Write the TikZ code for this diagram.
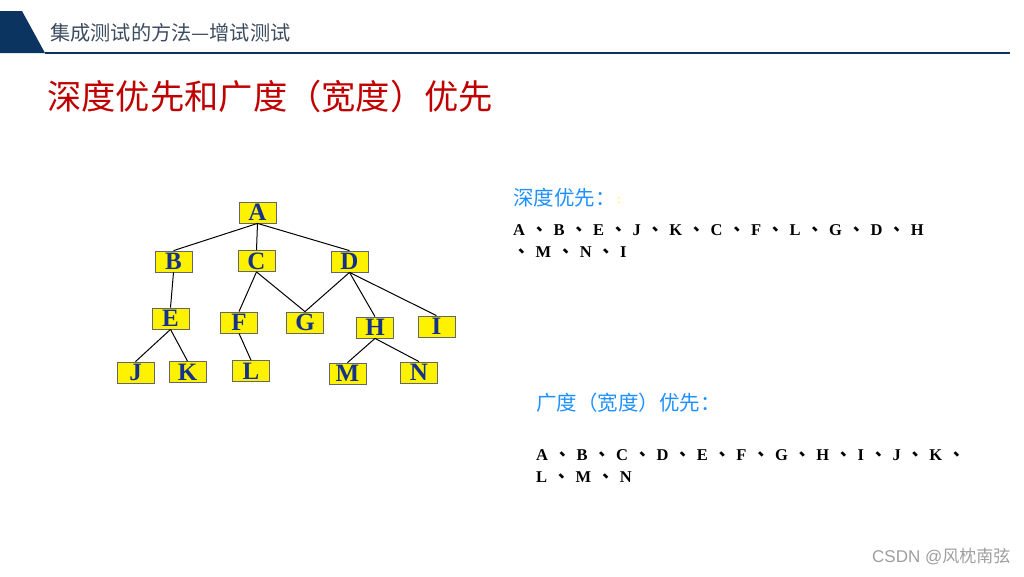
\documentclass[tikz,border=0pt]{standalone}
\usepackage{fontspec}
\setmainfont{Liberation Serif}
\newfontfamily\cjk{Noto Sans CJK SC}
\newfontfamily\cjktc{Noto Sans CJK TC}
\newfontfamily\wmfont{Liberation Sans}
\usepackage{xcolor}
\usepackage{tikz}
\usetikzlibrary{positioning}
\definecolor{hdrblue}{RGB}{12,52,97}
\definecolor{hdrgray}{RGB}{60,75,95}
\definecolor{ttlred}{RGB}{192,0,0}
\definecolor{letblue}{RGB}{20,50,140}
\definecolor{headblue}{RGB}{30,144,255}
\newcommand\dun{\hspace{6pt}{\cjktc 、}\hspace{6pt}}
\tikzset{
  % --- page header ------------------------------------------------------------
  hdtxt/.style={anchor=west,inner sep=0pt,text=hdrgray,
                font=\cjk\fontsize{20.2}{20.2}\selectfont},
  ttl/.style={anchor=west,inner sep=0pt,text=ttlred,
              font=\cjk\fontsize{34.3}{34.3}\selectfont},
  % --- tree -------------------------------------------------------------------
  tnode/.style={draw=black!60,line width=0.8pt,fill=yellow,inner sep=0pt,
                minimum width=37pt,minimum height=21pt,text=letblue,
                font=\bfseries\fontsize{25}{25}\selectfont},
  tedge/.style={black,line width=1pt},
  % --- orders -----------------------------------------------------------------
  ohead/.style={anchor=west,inner sep=0pt,text=headblue,
                font=\cjk\fontsize{20.5}{20.5}\selectfont},
  seq/.style={anchor=base west,inner sep=0pt,
              font=\bfseries\fontsize{16.5}{16.5}\selectfont},
}

\begin{document}
\begin{tikzpicture}[x=1pt,y=-1pt]
  \useasboundingbox (0,0) rectangle (1024,576);
  % header bar
  \fill[hdrblue] (0,11) -- (22,11) -- (45,53) -- (0,53) -- cycle;
  \draw[hdrblue,line width=2pt] (45,53) -- (1010,53);
  \node[hdtxt] (hd) at (50,33) {集成测试的方法—增试测试};
  \node[ttl] (ttl) at (47,96) {深度优先和广度（宽度）优先};
  % tree
  \node[tnode] (A) at (257.5,212.5) {A};
  \node[tnode] (B) at (173.5,261.5) {B};
  \node[tnode] (C) at (256.5,261) {C};
  \node[tnode] (D) at (349.5,261.5) {D};
  \node[tnode] (E) at (170.5,318.5) {E};
  \node[tnode] (F) at (239,322.5) {F};
  \node[tnode] (G) at (305,322.5) {G};
  \node[tnode] (H) at (375,327.5) {H};
  \node[tnode] (I) at (436.5,326.5) {I};
  \node[tnode] (J) at (135.5,372.5) {J};
  \node[tnode] (K) at (187.5,372) {K};
  \node[tnode] (L) at (251,371) {L};
  \node[tnode] (M) at (347.5,373.5) {M};
  \node[tnode] (N) at (419,372.5) {N};
  \foreach \a/\b in {A/B,A/C,A/D,B/E,C/F,C/G,D/G,D/H,D/I,E/J,E/K,F/L,H/M,H/N}
    \draw[tedge] (\a.south) -- (\b.north);
  % depth first
  \node[ohead] (dh) at (513,198) {深度优先：};
  \node[anchor=west,inner sep=0pt,text=yellow,font=\cjk\fontsize{9}{9}\selectfont] (dc) at (616.5,201) {：};
  \node[seq] (d1) at (513,235) {A\dun B\dun E\dun J\dun K\dun C\dun F\dun L\dun G\dun D\dun H};
  \node[seq] (d2) at (513,257) {{\cjktc 、}\hspace{6pt}M\dun N\dun I};
  % breadth first
  \node[ohead] (bh) at (536,403) {广度（宽度）优先：};
  \node[seq] (b1) at (536,460) {A\dun B\dun C\dun D\dun E\dun F\dun G\dun H\dun I\dun J\dun K\dun};
  \node[seq] (b2) at (536,482) {L\dun M\dun N};
  % watermark
  \node[anchor=west,inner sep=0pt,text=black!38,font=\fontsize{17}{17}\selectfont] (wm) at (872,557)
    {{\wmfont CSDN @}{\cjk 风枕南弦}};
\end{tikzpicture}
\end{document}
